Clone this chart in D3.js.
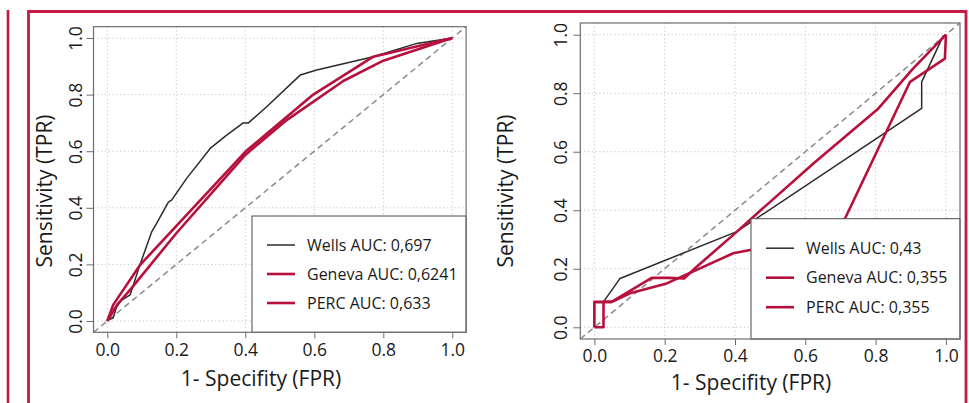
<!DOCTYPE html>
<html><head><meta charset="utf-8">
<script src="https://cdn.jsdelivr.net/npm/d3@7"></script>
<style>html,body{margin:0;padding:0;background:#fff;}svg{display:block;font-family:"Open Sans",sans-serif;}</style>
</head><body>
<svg id="c" width="969" height="403"></svg>
<script>
// ---- data ----
const tickValues = [0, 0.2, 0.4, 0.6, 0.8, 1.0];
const xTitle = "1- Specifity (FPR)";
const yTitle = "Sensitivity (TPR)";
const seriesNames = ["Wells", "Geneva", "PERC"];

const leftAUC = ["0,697", "0,6241", "0,633"];
const leftWells = [[0,0],[0.003,0.004],[0.017,0.01],[0.027,0.05],[0.042,0.074],[0.066,0.092],[0.095,0.2],[0.129,0.316],[0.143,0.345],[0.177,0.42],[0.187,0.428],[0.23,0.504],[0.30,0.612],[0.346,0.657],[0.394,0.70],[0.409,0.70],[0.462,0.757],[0.559,0.869],[0.607,0.887],[0.771,0.934],[0.897,0.981],[1,1]];
const leftGeneva = [[0,0],[0.017,0.057],[0.095,0.198],[0.40,0.598],[0.597,0.80],[0.771,0.934],[1,1]];
const leftPERC = [[0,0],[0.03,0.06],[0.066,0.11],[0.20,0.31],[0.40,0.587],[0.52,0.71],[0.684,0.848],[0.80,0.92],[1,1]];

const rightAUC = ["0,43", "0,355", "0,355"];
const rightWells = [[0,0],[0,0.085],[0.025,0.085],[0.073,0.167],[0.405,0.327],[0.931,0.748],[0.931,0.839],[0.992,0.995],[1,1]];
const rightGeneva = [[0,0],[0,0.087],[0.026,0.087],[0.049,0.087],[0.163,0.169],[0.21,0.169],[0.255,0.167],[0.291,0.207],[0.40,0.321],[0.447,0.372],[0.623,0.56],[0.808,0.748],[0.907,0.885],[1,1]];
const rightPERC = [[0,0],[0.026,0],[0.026,0.087],[0.05,0.087],[0.101,0.116],[0.206,0.15],[0.395,0.253],[0.443,0.264],[0.62,0.29],[0.713,0.372],[0.898,0.839],[0.997,0.918],[1,1]];

// ---- styles ----
const RED = "#b8103c";
const FRAME = "#c41a44";
const colors = ["#2b2b2b", RED, RED];
const widths = [1.5, 2.6, 2.6];

const svg = d3.select("#c");

// frame
svg.append("line").attr("x1",8).attr("x2",8).attr("y1",10).attr("y2",403)
  .attr("stroke",FRAME).attr("stroke-width",2.6);
svg.append("path").attr("d","M28.5,410V11.5H966V410")
  .attr("fill","none").attr("stroke",FRAME).attr("stroke-width",2.8);

function panel(cfg) {
  const x = d3.scaleLinear().domain([-0.04,1.04]).range([cfg.x0, cfg.x1]);
  const y = d3.scaleLinear().domain([-0.04,1.04]).range([cfg.y1, cfg.y0]);
  const g = svg.append("g");

  // grid
  const grid = g.append("g").attr("stroke","#c4c4c4").attr("stroke-width",1).attr("stroke-dasharray","1.2,2.6");
  tickValues.forEach(t => {
    grid.append("line").attr("x1",x(t)).attr("x2",x(t)).attr("y1",cfg.y0).attr("y2",cfg.y1);
    grid.append("line").attr("y1",y(t)).attr("y2",y(t)).attr("x1",cfg.x0).attr("x2",cfg.x1);
  });
  // diagonal
  g.append("line").attr("x1",x(-0.04)).attr("y1",y(-0.04)).attr("x2",x(1.04)).attr("y2",y(1.04))
    .attr("stroke","#8a8a8a").attr("stroke-width",1.5).attr("stroke-dasharray","6,4");

  // curves
  const line = d3.line().x(d=>x(d[0])).y(d=>y(d[1]));
  cfg.series.forEach((s,i) => {
    g.append("path").datum(s).attr("d",line).attr("fill","none")
      .attr("stroke",colors[i]).attr("stroke-width",widths[i]).attr("stroke-linejoin","round");
  });

  // legend
  const lg = g.append("g");
  lg.append("rect").attr("x",cfg.lx).attr("y",cfg.ly).attr("width",cfg.x1-cfg.lx).attr("height",cfg.y1-cfg.ly)
    .attr("fill","#fff").attr("stroke","#4a4a4a").attr("stroke-width",1);
  seriesNames.forEach((n,i) => {
    const yy = cfg.ly + cfg.lstep0 + i*cfg.lstep;
    lg.append("line").attr("x1",cfg.lx+15).attr("x2",cfg.lx+43).attr("y1",yy).attr("y2",yy)
      .attr("stroke",colors[i]).attr("stroke-width",widths[i]);
    lg.append("text").attr("x",cfg.lx+55).attr("y",yy).attr("dy","0.36em")
      .attr("font-size",16).attr("fill","#1a1a1a").text(n+" AUC: "+cfg.auc[i]);
  });

  // box
  g.append("rect").attr("x",cfg.x0).attr("y",cfg.y0).attr("width",cfg.x1-cfg.x0).attr("height",cfg.y1-cfg.y0)
    .attr("fill","none").attr("stroke","#6e6e6e").attr("stroke-width",1.2);

  // axes
  const fmt = d3.format(".1f");
  const ax = g.append("g").attr("transform",`translate(0,${cfg.y1})`)
    .call(d3.axisBottom(x).tickValues(tickValues).tickFormat(fmt).tickSize(6).tickPadding(5));
  ax.select(".domain").remove();
  ax.selectAll("line").attr("stroke","#6e6e6e");
  ax.selectAll("text").attr("font-size",17.5).attr("fill","#1a1a1a").attr("font-family","Open Sans");
  const ay = g.append("g").attr("transform",`translate(${cfg.x0},0)`)
    .call(d3.axisLeft(y).tickValues(tickValues).tickFormat(fmt).tickSize(7).tickPadding(0));
  ay.select(".domain").remove();
  ay.selectAll("line").attr("stroke","#6e6e6e");
  ay.selectAll("text").attr("font-size",17.5).attr("fill","#1a1a1a").attr("font-family","Open Sans")
    .attr("text-anchor","middle").attr("x",null).attr("dy",null)
    .attr("transform",d=>`translate(${-cfg.ylabOff},0) rotate(-90)`);

  // titles
  g.append("text").attr("x",cfg.xtX).attr("y",cfg.xtY).attr("text-anchor","middle")
    .attr("font-size",21).attr("fill","#1a1a1a").text(xTitle);
  g.append("text").attr("transform",`translate(${cfg.ytX},${cfg.ytY}) rotate(-90)`).attr("text-anchor","middle")
    .attr("font-size",21).attr("fill","#1a1a1a").text(yTitle);
}

panel({x0:93.5, x1:466.1, y0:26.7, y1:332.3, lx:252, ly:216, lstep0:29, lstep:29,
  series:[leftWells,leftGeneva,leftPERC], auc:leftAUC, ylabOff:11.5,
  xtX:261, xtY:386, ytX:52, ytY:191});
panel({x0:580.3, x1:960, y0:23, y1:339, lx:751, ly:218.7, lstep0:29.5, lstep:29.5,
  series:[rightWells,rightGeneva,rightPERC], auc:rightAUC, ylabOff:13,
  xtX:751, xtY:390, ytX:513, ytY:191});
</script>
</body></html>
